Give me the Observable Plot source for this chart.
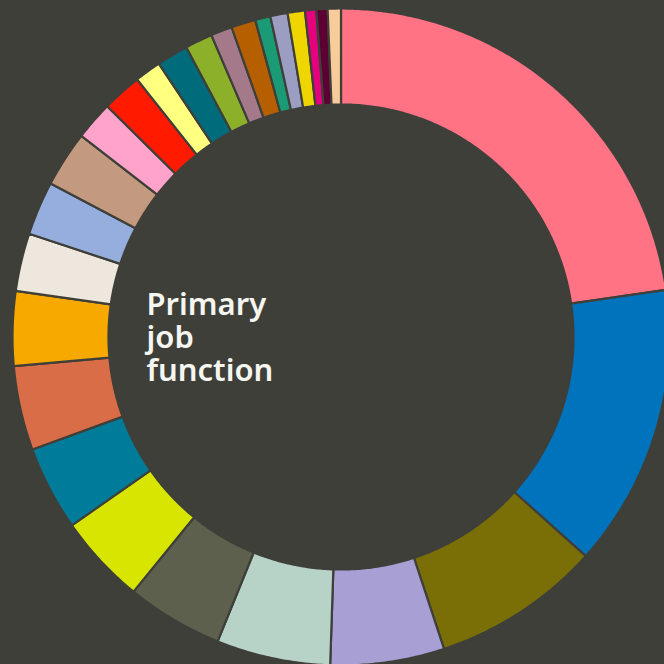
<!DOCTYPE html>
<html><head><meta charset="utf-8">
<script src="https://cdn.jsdelivr.net/npm/d3@7"></script>
<script src="https://cdn.jsdelivr.net/npm/@observablehq/plot@0.6"></script>
<style>html,body{margin:0;padding:0;background:#3f3f3a;} #chart{width:664px;height:664px;overflow:hidden}</style>
</head><body><div id="chart"></div>
<script>
const title = "Primary\njob\nfunction";
const categories = ["Function 1","Function 2","Function 3","Function 4","Function 5","Function 6","Function 7","Function 8","Function 9","Function 10","Function 11","Function 12","Function 13","Function 14","Function 15","Function 16","Function 17","Function 18","Function 19","Function 20","Function 21","Function 22","Function 23","Function 24","Function 25","Function 26"];
const values = [22.7, 13.9, 8.3, 5.6, 5.6, 4.75, 4.4, 4.15, 4.15, 3.65, 2.85, 2.65, 2.75, 1.9, 1.95, 1.3, 1.55, 1.35, 1.05, 1.2, 0.75, 0.85, 0.85, 0.55, 0.55, 0.65];
const colors = ["#ff7384","#0073bd","#7a6e06","#a8a0d4","#b7d3c8","#5d604c","#d8e500","#007c9b","#d86d47","#f8a900","#eee7dd","#95aedd","#c39a80","#ffa3ca","#ff1a00","#ffff80","#006b7a","#8db02b","#a47989","#b55f00","#1a9b76","#9b9ec2","#efd600","#e5007e","#5c0033","#f8cc9a"];

const total = d3.sum(values);
const ends = Array.from(d3.cumsum(values));
const R = 328.5, r = 232.5;
const scaleK = R / (Math.PI / 2);
const outerLat = 90 - (R / scaleK) * 180 / Math.PI;
const innerLat = 90 - (r / scaleK) * 180 / Math.PI;
const toLon = (a) => 180 - a;

const slices = categories.map((name, i) => {
  const a0 = (i === 0 ? 0 : ends[i - 1]) / total * 360;
  const a1 = ends[i] / total * 360;
  const n = Math.max(4, Math.ceil((a1 - a0) / 0.5));
  const outer = d3.range(n + 1).map(k => [toLon(a0 + (a1 - a0) * k / n), outerLat]);
  const inner = d3.range(n + 1).map(k => [toLon(a1 - (a1 - a0) * k / n), innerLat]);
  let ring = [...outer, ...inner, outer[0]];
  let f = {type: "Feature", properties: {name}, geometry: {type: "Polygon", coordinates: [ring]}};
  if (d3.geoArea(f) > 2 * Math.PI) {
    ring = ring.slice().reverse();
    f = {type: "Feature", properties: {name}, geometry: {type: "Polygon", coordinates: [ring]}};
  }
  return f;
});

const projection = d3.geoAzimuthalEquidistant()
  .rotate([0, -90])
  .translate([340.5, 336.5])
  .scale(scaleK);

const chart = Plot.plot({
  width: 664,
  height: 664,
  margin: 0,
  style: {background: "#3f3f3a", overflow: "hidden"},
  projection,
  color: {domain: categories, range: colors},
  marks: [
    Plot.geo(slices, {fill: d => d.properties.name, stroke: "#3f3f3a", strokeWidth: 2.2}),
    Plot.text([title], {frameAnchor: "top-left", dx: 146, dy: 291, textAnchor: "start", lineAnchor: "top", fontSize: 31, lineHeight: 1.07, fill: "#f6f6f1", fontWeight: 600, fontFamily: "Noto Sans", letterSpacing: "-1px"})
  ]
});
document.getElementById("chart").append(chart);
</script>
</body></html>
